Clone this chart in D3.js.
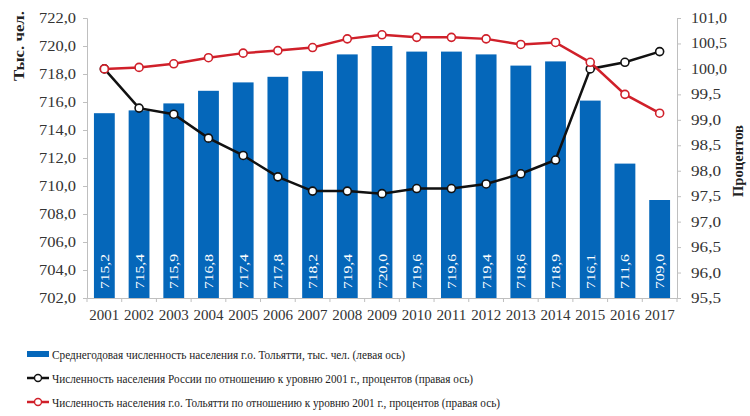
<!DOCTYPE html>
<html><head><meta charset="utf-8">
<script src="https://cdn.jsdelivr.net/npm/d3@7"></script>
<style>body{margin:0;background:#fff}svg{display:block}svg text{font-family:'Liberation Serif','DejaVu Serif',serif !important}</style>
</head><body>
<script>
const years = ["2001","2002","2003","2004","2005","2006","2007","2008","2009","2010","2011","2012","2013","2014","2015","2016","2017"];
const popTolyatti = [715.2,715.4,715.9,716.8,717.4,717.8,718.2,719.4,720.0,719.6,719.6,719.4,718.6,718.9,716.1,711.6,709.0];
const russiaPct = [100.0,99.23,99.11,98.64,98.30,97.88,97.60,97.60,97.55,97.65,97.65,97.74,97.94,98.21,100.0,100.13,100.34];
const tolyattiPct = [100.0,100.03,100.10,100.22,100.31,100.36,100.42,100.59,100.67,100.62,100.62,100.59,100.48,100.52,100.13,99.50,99.13];
const leftTicks = [702,704,706,708,710,712,714,716,718,720,722];
const rightTicks = [95.5,96,96.5,97,97.5,98,98.5,99,99.5,100,100.5,101];
const legendLabels = [
  "Среднегодовая численность населения г.о. Тольятти, тыс. чел. (левая ось)",
  "Численность населения  России по отношению к уровню 2001 г., процентов (правая ось)",
  "Численность населения  г.о. Тольятти по отношению к уровню 2001 г., процентов (правая ось)"
];
const fmt = v => v.toFixed(1).replace(".", ",");
const SERIF = "'Liberation Serif', serif";

const W = 750, H = 416;
const m = {left: 87, right: 73, top: 18, bottom: 118};
const svg = d3.select("body").append("svg").attr("width", W).attr("height", H)
  .attr("font-family", SERIF);
const pw = W - m.left - m.right, ph = H - m.top - m.bottom;
const g = svg.append("g").attr("transform", `translate(${m.left},${m.top})`);

const x = d3.scaleBand().domain(years).range([0, pw]).paddingInner(0.4).paddingOuter(0.2);
const yL = d3.scaleLinear().domain([702, 722]).range([ph, 0]);
const yR = d3.scaleLinear().domain([95.5, 101]).range([ph, 0]);

const axisColor = "#bfbfbf";
function styleAxis(sel) {
  sel.attr("font-family", SERIF);
  sel.select(".domain").attr("stroke", axisColor);
  sel.selectAll(".tick line").attr("stroke", axisColor);
  sel.selectAll(".tick text").attr("fill", "#333").attr("font-size", 14).style("font-family", SERIF);
}
const gl = g.append("g").call(d3.axisLeft(yL).tickValues(leftTicks).tickFormat(fmt).tickSize(4).tickPadding(7));
styleAxis(gl);
gl.selectAll(".tick text").attr("textLength", 37).attr("lengthAdjust", "spacingAndGlyphs");
const gr = g.append("g").attr("transform", `translate(${pw},0)`)
  .call(d3.axisRight(yR).tickValues(rightTicks).tickFormat(fmt).tickSize(4).tickPadding(10));
styleAxis(gr);
gr.selectAll(".tick text").attr("textLength", d => d >= 100 ? 36 : 30).attr("lengthAdjust", "spacingAndGlyphs");
const gx = g.append("g").attr("transform", `translate(0,${ph})`)
  .call(d3.axisBottom(x).tickSize(0).tickPadding(12));
styleAxis(gx);
gx.selectAll(".tick text").attr("font-size", 14.5).attr("textLength", 30).attr("lengthAdjust", "spacingAndGlyphs");
gx.selectAll(".bt").data(d3.range(years.length + 1)).enter().append("line")
  .attr("x1", i => i * pw / years.length).attr("x2", i => i * pw / years.length)
  .attr("y1", 0).attr("y2", 4).attr("stroke", axisColor);

// bars
g.selectAll(".bar").data(years).enter().append("rect")
  .attr("x", d => x(d)).attr("width", x.bandwidth())
  .attr("y", (d, i) => yL(popTolyatti[i]))
  .attr("height", (d, i) => ph - yL(popTolyatti[i]))
  .attr("fill", "#0567BA");

// bar labels
g.selectAll(".blab").data(years).enter().append("text")
  .attr("transform", d => `translate(${x(d) + x.bandwidth() / 2 + 4.5},${ph - 9}) rotate(-90)`)
  .attr("fill", "#fff").attr("font-size", 13).style("font-family", SERIF)
  .attr("textLength", 35).attr("lengthAdjust", "spacingAndGlyphs")
  .text((d, i) => fmt(popTolyatti[i]));

// lines
function drawLine(vals, color) {
  const line = d3.line().x((d, i) => x(years[i]) + x.bandwidth() / 2).y(d => yR(d));
  g.append("path").datum(vals).attr("d", line).attr("fill", "none")
    .attr("stroke", color).attr("stroke-width", 2.5);
  g.selectAll(null).data(vals).enter().append("circle")
    .attr("cx", (d, i) => x(years[i]) + x.bandwidth() / 2).attr("cy", d => yR(d))
    .attr("r", 4).attr("fill", "#fff").attr("stroke", color).attr("stroke-width", 1.6);
}
drawLine(russiaPct, "#111");
drawLine(tolyattiPct, "#D0202A");

// axis titles
svg.append("text").attr("transform", "translate(24,46) rotate(-90)").attr("text-anchor", "middle")
  .attr("font-weight", "bold").attr("font-size", 14).attr("fill", "#222").style("font-family", SERIF)
  .attr("textLength", 70).attr("lengthAdjust", "spacingAndGlyphs").text("Тыс. чел.");
svg.append("text").attr("transform", "translate(743,161) rotate(-90)").attr("text-anchor", "middle")
  .attr("font-weight", "bold").attr("font-size", 14).attr("fill", "#222").style("font-family", SERIF)
  .attr("textLength", 72).attr("lengthAdjust", "spacingAndGlyphs").text("Процентов");

// legend
const lg = svg.append("g");
const ly = [354, 378, 402];
const lLen = [353, 421, 448];
const lcolors = ["#0567BA", "#111", "#D0202A"];
legendLabels.forEach((t, i) => {
  if (i === 0) {
    lg.append("rect").attr("x", 27).attr("y", ly[i] - 3).attr("width", 22).attr("height", 6).attr("fill", lcolors[i]);
  } else {
    lg.append("line").attr("x1", 27).attr("x2", 49).attr("y1", ly[i]).attr("y2", ly[i])
      .attr("stroke", lcolors[i]).attr("stroke-width", 2.5);
    lg.append("circle").attr("cx", 38).attr("cy", ly[i]).attr("r", 3.5)
      .attr("fill", "#fff").attr("stroke", lcolors[i]).attr("stroke-width", 1.4);
  }
  lg.append("text").attr("x", 52).attr("y", ly[i] + 4.5).attr("font-size", 13)
    .attr("fill", "#222").style("font-family", SERIF)
    .attr("textLength", lLen[i]).attr("lengthAdjust", "spacingAndGlyphs").text(t);
});
</script>
</body></html>
